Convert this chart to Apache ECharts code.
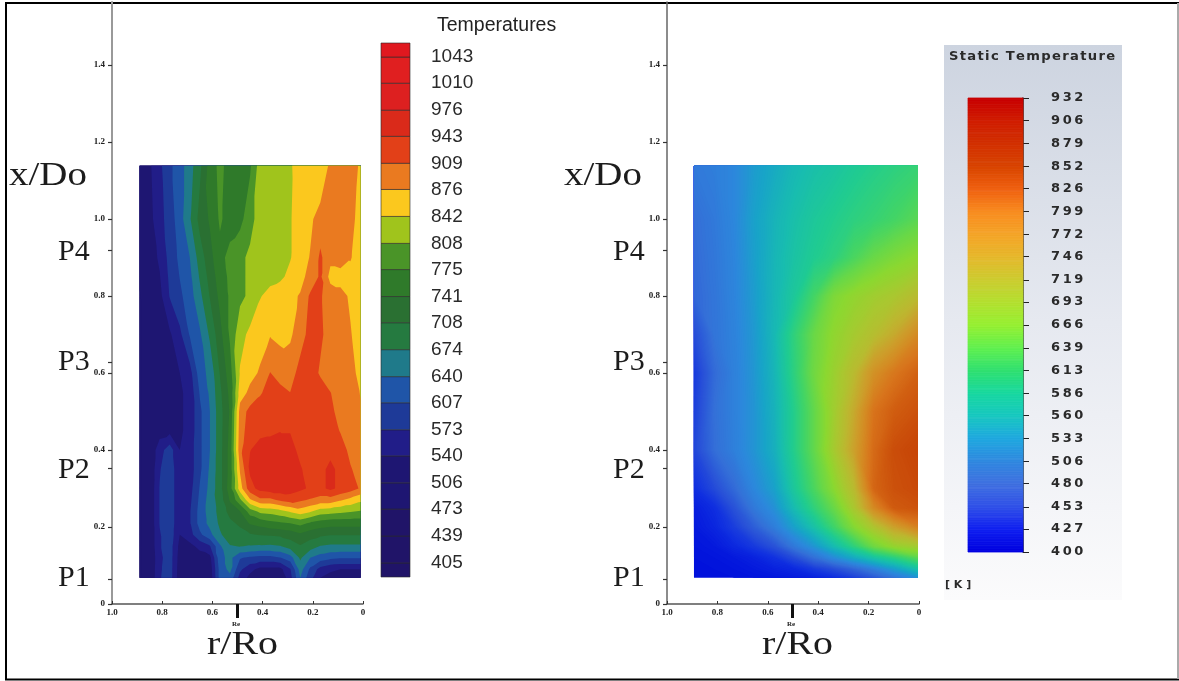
<!DOCTYPE html>
<html><head><meta charset="utf-8">
<style>html,body{margin:0;padding:0;background:#fff}#c{width:1179px;height:681px}</style>
<script src="https://cdn.jsdelivr.net/npm/echarts@6/dist/echarts.min.js"></script>
</head><body><div id="c"></div>
<script>
var xTicks=[0,0.2,0.4,0.6,0.8,1.0];
var yTicks=[0,0.2,0.4,0.6,0.8,1.0,1.2,1.4];
var stationTicks=[0.065,0.353,0.628,0.92];
var stationNames=['P1','P2','P3','P4'];
var leftLegendTitle='Temperatures';
var rightLegendTitle='Static Temperature';
var rightLegendUnit='[ K ]';
var leftLevels=[405,439,473,506,540,573,607,640,674,708,741,775,808,842,876,909,943,976,1010,1043];
var leftColors=['#201468','#201468','#201468','#1e1672','#1e1672','#211d88','#1e3a98','#1f55a8','#1f7a8a','#257a40','#2a7032','#2f7a2a','#4a9428','#a0c41c','#fbc81e','#ea7a20','#e24018','#da2a1a','#dd2020','#e01f20','#e0181f'];
var rightLevels=[932,906,879,852,826,799,772,746,719,693,666,639,613,586,560,533,506,480,453,427,400];
var rightColors=['#c80000','#d01c00','#d23000','#d84400','#f06010','#f88c20','#f5a528','#e6b82c','#cccc30','#b4e030','#96f032','#60f050','#30e070','#18d8a0','#18c8c0','#20a8e0','#3088e0','#4070e0','#3050e8','#1020f0','#0000e0'];
var rightMapColors=['#c00000','#c42000','#c63c04','#c84808','#d05c10','#d8741c','#d48c24','#cca02c','#bcb830','#a8c830','#8cd830','#68d848','#40d468','#20cc90','#18bcb0','#18a4c8','#2c88dc','#3470d8','#2850d8','#1030e0','#0010dc'];

var leftR=[0.89,0.85,0.81,0.77,0.73,0.69,0.65,0.61,0.57,0.53,0.49,0.45,0.41,0.37,0.33,0.29,0.25,0.21,0.17,0.13,0.09,0.05,0.01];
var leftX=[1.138,1.0,0.9,0.85,0.8,0.7,0.6,0.548,0.5,0.45,0.4,0.35,0.3,0.27,0.24,0.21,0.18,0.15,0.12,0.09,0.068];
var leftTemps=[
[520,535,565,600,625,660,700,755,785,760,750,770,825,825,830,838,858,845,845,885,895,895,870],
[510,530,560,590,625,670,720,745,780,760,765,795,825,828,832,840,855,870,890,900,900,885,865],
[510,525,545,585,615,640,690,730,765,785,800,815,825,830,835,840,860,878,915,885,890,878,862],
[508,520,538,580,608,632,678,720,758,782,800,815,826,832,836,850,868,885,915,865,865,868,862],
[505,515,530,575,600,625,665,710,750,780,800,815,840,852,860,870,878,915,912,895,885,872,860],
[505,510,520,535,565,610,635,680,730,780,830,850,862,874,868,872,890,925,915,895,890,878,862],
[505,510,520,530,540,560,625,650,710,760,845,865,880,910,895,890,925,925,905,895,892,885,868],
[505,510,520,530,535,550,610,645,700,750,860,885,905,925,920,910,925,930,925,910,895,888,875],
[505,510,520,530,535,550,600,640,695,745,890,920,930,930,930,930,930,930,930,915,900,890,878],
[505,510,525,530,535,550,600,640,695,750,895,925,935,938,942,942,935,930,930,925,907,892,880],
[505,512,560,590,540,555,600,640,695,755,900,942,955,955,958,950,938,930,930,935,925,900,885],
[505,512,570,600,540,555,600,645,695,755,880,950,960,960,960,958,945,935,935,950,935,912,895],
[505,512,575,600,540,560,610,650,695,760,860,930,955,962,962,960,950,938,935,950,935,925,905],
[505,512,575,600,540,565,615,655,690,745,800,870,900,900,915,925,915,905,895,895,880,865,850],
[505,512,575,600,540,570,620,655,685,720,740,790,815,820,830,845,860,845,825,820,815,810,805],
[505,512,575,600,540,570,620,650,680,700,715,745,755,765,770,775,785,770,760,755,755,755,755],
[505,512,570,595,540,560,600,630,670,690,695,705,710,712,715,722,735,722,715,710,710,710,710],
[505,512,570,590,530,530,550,570,635,672,675,672,670,668,672,690,705,690,672,668,668,668,668],
[505,510,565,590,525,520,525,530,630,650,610,600,595,595,605,625,680,640,625,615,610,610,610],
[505,510,568,590,522,515,515,520,620,650,580,550,530,530,530,570,655,600,560,545,540,540,540],
[505,510,570,590,520,510,510,515,620,630,560,530,510,510,510,560,640,585,540,530,525,525,525]
];

var rightR=[0.893,0.813,0.734,0.655,0.575,0.496,0.417,0.337,0.258,0.179,0.099,0.004];
var rightX=[1.138,1.0,0.9,0.8,0.7,0.6,0.5,0.4,0.3,0.25,0.2,0.15,0.12,0.09,0.068];
var rightTemps=[
[490,495,505,525,540,555,565,572,582,590,597,605],
[478,490,505,530,550,565,578,588,597,605,615,630],
[475,488,503,528,552,570,585,598,620,640,655,668],
[472,486,502,525,553,578,615,655,672,685,695,715],
[450,485,500,522,555,600,640,670,690,710,735,775],
[435,475,498,520,552,598,645,680,715,765,795,820],
[440,480,498,518,548,590,635,685,735,800,825,840],
[445,478,497,518,545,590,635,690,745,810,845,858],
[425,448,475,505,530,578,620,665,715,815,840,850],
[412,425,455,490,515,560,600,640,695,775,828,838],
[408,418,438,465,495,530,568,612,660,700,745,785],
[404,408,420,435,455,490,520,560,600,645,675,690],
[402,404,408,415,428,450,480,510,540,570,595,630],
[401,402,404,408,414,420,435,450,470,495,525,565],
[401,401,402,404,406,410,415,425,440,460,485,515]
];

function hex(c){return [1,3,5].map(function(i){return parseInt(c.substr(i,2),16);});}
function rampColor(v,colors){
  var i=0;
  for(i=0;i<rightLevels.length-1;i++){ if(v>=rightLevels[i+1]) break; }
  if(i>=rightLevels.length-1) i=rightLevels.length-2;
  var a=hex(colors[i]),b=hex(colors[i+1]);
  var t=(rightLevels[i]-v)/(rightLevels[i]-rightLevels[i+1]);
  return 'rgb('+[0,1,2].map(function(k){return Math.round(a[k]+(b[k]-a[k])*t);}).join(',')+')';
}
var leftBands=[];
(function(){
  var edges=[-Infinity].concat(leftLevels).concat([Infinity]);
  for(var i=0;i<leftColors.length;i++) leftBands.push([edges[i],edges[i+1],leftColors[i]]);
})();
var mapBands=[],barBands=[];
for(var b=400;b<932;b+=2){
  mapBands.push([b,b+2,rampColor(b+1,rightMapColors)]);
  barBands.push([b,b+2,rampColor(b+1,rightColors)]);
}
mapBands[0][0]=-Infinity;mapBands[mapBands.length-1][1]=Infinity;

function clipAbove(poly,level){
  var out=[];
  for(var i=0;i<poly.length;i++){
    var p=poly[i],q=poly[(i+1)%poly.length];
    var pi=p[2]>=level, qi=q[2]>=level;
    if(pi) out.push(p);
    if(pi!==qi){
      var t=(level-p[2])/(q[2]-p[2]);
      out.push([p[0]+(q[0]-p[0])*t,p[1]+(q[1]-p[1])*t,level]);
    }
  }
  return out;
}
function contourSeries(rs,xs,vals,bands,xi,yi){
  return {type:'custom',xAxisIndex:xi,yAxisIndex:yi,coordinateSystem:'cartesian2d',silent:true,clip:false,z:3,
    encode:{x:0,y:1},data:bands.map(function(b,k){return [rs[0],xs[0],k];}),
    renderItem:function(params,api){
      var band=bands[api.value(2)],d=[];
      function P(a,c){var p=api.coord([rs[a],xs[c]]);return [p[0],p[1],vals[c][a]];}
      function add(t){
        var pg=isFinite(band[0])?clipAbove(t,band[0]):t;
        if(pg.length<3) return;
        d.push('M'+pg.map(function(q){return q[0].toFixed(2)+' '+q[1].toFixed(2);}).join('L')+'Z');
      }
      for(var j=0;j<xs.length-1;j++) for(var i=0;i<rs.length-1;i++){
        var A=P(i,j),B=P(i+1,j),C=P(i+1,j+1),D=P(i,j+1);
        if(Math.abs(A[2]-C[2])<Math.abs(B[2]-D[2])){add([A,B,C]);add([A,C,D]);}
        else{add([A,B,D]);add([B,C,D]);}
      }
      if(!d.length) return null;
      return {type:'path',shape:{pathData:d.join('')},style:{fill:band[2]},silent:true};
    }};
}
function legendSeries(bands,lo,hi,xi,yi,line){
  return {type:'custom',xAxisIndex:xi,yAxisIndex:yi,silent:true,z:3,encode:{y:1},
    data:bands.map(function(b,k){return [0,k];}),
    renderItem:function(params,api){
      var b=bands[api.value(1)];
      var p0=api.coord([0,Math.min(b[1],hi)]),p1=api.coord([1,Math.max(b[0],lo)]);
      return {type:'rect',shape:{x:p0[0],y:p0[1],width:p1[0]-p0[0],height:p1[1]-p0[1]},
        style:{fill:b[2],stroke:line?'#2a2a2a':b[2],lineWidth:line?0.6:0.8},silent:true};
    }};
}
function fmt(v){return v===0?'0':v.toFixed(1);}
function frameAxes(gi){
  return {
    x:{gridIndex:gi,type:'value',min:0,max:1,inverse:true,position:'bottom',splitLine:{show:false},
      axisLine:{onZero:false,lineStyle:{color:'#555',width:1.5}},
      axisTick:{inside:true,length:3,lineStyle:{color:'#333'},customValues:xTicks},
      axisLabel:{customValues:xTicks,formatter:fmt,fontFamily:'Liberation Serif',fontWeight:'bold',fontSize:9,color:'#222',margin:4,showMinLabel:true,showMaxLabel:true}},
    y:{gridIndex:gi,type:'value',min:0,max:1.5636,position:'left',splitLine:{show:false},
      axisLine:{onZero:false,lineStyle:{color:gi===0?'#999':'#666',width:gi===0?2:1.5}},
      axisTick:{length:4,lineStyle:{color:'#333',width:1.2},customValues:yTicks.concat(stationTicks)},
      axisLabel:{customValues:yTicks,formatter:fmt,fontFamily:'Liberation Serif',fontWeight:'bold',fontSize:9,color:'#222',margin:7}}
  };
}
var fa=frameAxes(0),fb=frameAxes(1);
var hidX={type:'value',min:0,max:1,show:false};
var serif='Liberation Serif';
function txt(x,y,s,size,sx){
  return {type:'text',x:x,y:y,scaleX:sx||1,z:20,
    style:{text:s,fontFamily:serif,fontSize:size,fill:'#1c1c1c',textVerticalAlign:'middle',textAlign:'left'}};
}
function hline(x1,y1,x2,y2,c){return {type:'line',z:-4,shape:{x1:x1,y1:y1,x2:x2,y2:y2},style:{stroke:c,lineWidth:2}};}
var stationY=[578,470,362,252];
var hair='\u200a',thin='\u2009';
function spaced(s,g){return s.split('').join(g);}
var gfx=[
  hline(5,3,1179,3,'#000'),hline(6,3,6,680,'#000'),hline(5,679.5,1179,679.5,'#000'),hline(1178,3,1178,679,'#aaa'),
  {type:'rect',z:-3,shape:{x:944,y:45,width:178,height:555},style:{fill:{type:'linear',x:0,y:0,x2:0,y2:1,colorStops:[{offset:0,color:'#cdd4e0'},{offset:0.5,color:'#e6e9f0'},{offset:1,color:'#fbfbfc'}]}}},
  txt(9,176,'x/Do',33,1.18),txt(564,176,'x/Do',33,1.18),
  txt(207,645,'r/Ro',33,1.21),txt(762,645,'r/Ro',33,1.21),
  {type:'rect',z:20,shape:{x:236,y:604,width:3,height:14},style:{fill:'#111'}},
  {type:'rect',z:20,shape:{x:791,y:604,width:3,height:14},style:{fill:'#111'}},
  {type:'text',x:232,y:624,z:20,style:{text:'Re',fontFamily:serif,fontSize:7,fontWeight:'bold',fill:'#222',textVerticalAlign:'middle'}},
  {type:'text',x:787,y:624,z:20,style:{text:'Re',fontFamily:serif,fontSize:7,fontWeight:'bold',fill:'#222',textVerticalAlign:'middle'}},
  {type:'text',x:437,y:26,z:20,style:{text:leftLegendTitle,fontFamily:'Liberation Sans',fontSize:19.5,fill:'#222',textVerticalAlign:'middle'}},
  {type:'text',x:949,y:57,z:20,scaleX:1.05,style:{text:spaced(rightLegendTitle,hair),fontFamily:'DejaVu Sans',fontWeight:'bold',fontSize:12.5,fill:'#2a2a2a',textVerticalAlign:'middle'}},
  {type:'text',x:945,y:585,z:20,style:{text:rightLegendUnit,fontFamily:'DejaVu Sans',fontWeight:'bold',fontSize:11,fill:'#2a2a2a',textVerticalAlign:'middle'}}
];
stationNames.forEach(function(n,i){
  gfx.push(txt(58,stationY[i],n,30,1));
  gfx.push(txt(613,stationY[i],n,30,1));
});

var option={
  animation:false,backgroundColor:'#fff',
  grid:[
    {left:112,top:2,width:251,height:602},
    {left:667,top:2,width:252,height:602},
    {left:381,top:43,width:29,height:534},
    {left:968,top:98,width:55,height:454}
  ],
  xAxis:[fa.x,fb.x,Object.assign({gridIndex:2},hidX),Object.assign({gridIndex:3},hidX)],
  yAxis:[fa.y,fb.y,
    {gridIndex:2,type:'value',position:'right',min:387.3,max:1060.7,splitLine:{show:false},
     axisLine:{show:false},axisTick:{show:false},
     axisLabel:{customValues:leftLevels,margin:21,formatter:function(v){return String(v);},padding:[2,0,0,0],fontFamily:'Liberation Sans',fontSize:19,color:'#2a2a2a'}},
    {gridIndex:3,type:'value',position:'right',min:400,max:932,splitLine:{show:false},
     axisLine:{show:true,onZero:false,lineStyle:{color:'#222',width:1.5}},
     axisTick:{show:true,length:6,lineStyle:{color:'#222'},customValues:rightLevels},
     axisLabel:{customValues:rightLevels,margin:28,showMinLabel:true,showMaxLabel:true,formatter:function(v){return spaced(String(v),thin);},fontFamily:'DejaVu Sans',fontWeight:'bold',fontSize:13,color:'#2a2a2a'}}
  ],
  graphic:{elements:gfx},
  series:[
    contourSeries(leftR,leftX,leftTemps,leftBands,0,0),
    contourSeries(rightR,rightX,rightTemps,mapBands,1,1),
    legendSeries(leftBands,387.3,1060.7,2,2,true),
    legendSeries(barBands,400,932,3,3,false)
  ]
};
echarts.init(document.getElementById('c')).setOption(option);
</script></body></html>
